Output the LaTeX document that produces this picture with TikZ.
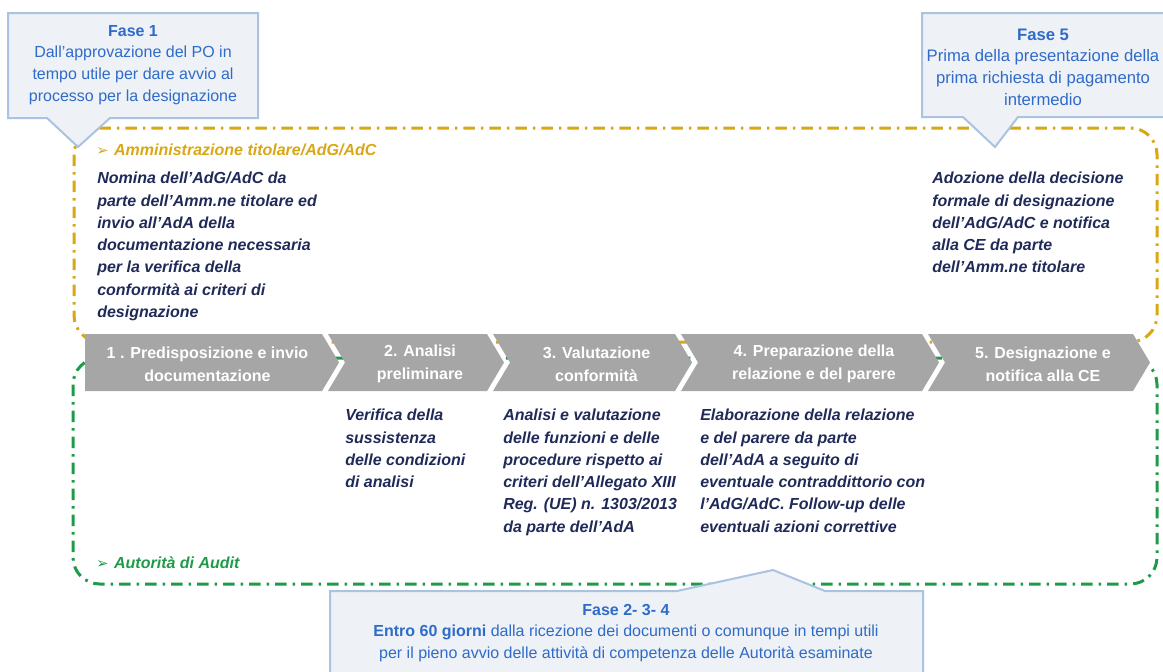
\documentclass[tikz,border=0pt]{standalone}
\usepackage{fontspec}
\setmainfont{Liberation Sans}
\newfontfamily\dingfont{DejaVu Sans}
\usetikzlibrary{positioning}
\definecolor{amm}{HTML}{D9A614}
\definecolor{audit}{HTML}{1E9B48}
\definecolor{navy}{HTML}{1F2A58}
\definecolor{faseblue}{HTML}{2F6BC9}
\definecolor{calloutfill}{HTML}{EEF1F5}
\definecolor{calloutline}{HTML}{A9C3E0}
\definecolor{stepgray}{HTML}{A6A6A6}
\tikzset{
  lanebox/.style={line width=2.25pt, rounded corners=20pt,
    dash pattern=on 8.5pt off 4.5pt on 2pt off 4.5pt},
  callout/.style={fill=calloutfill, draw=calloutline, line width=1.5pt},
  callout text/.style={text=faseblue, font=\fontsize{12}{16.3}\selectfont,
    align=center, inner sep=0pt},
  chevron/.style={fill=stepgray},
  chevron text/.style={text=white, font=\fontsize{12}{17.2}\selectfont\bfseries,
    align=center, inner sep=0pt},
  body text/.style={text=navy, font=\fontsize{12}{16.7}\selectfont\bfseries\itshape,
    align=left, inner sep=0pt, anchor=north west},
  lane label/.style={font=\fontsize{12}{16}\selectfont\bfseries\itshape,
    anchor=west, inner sep=0pt}
}
\newcommand{\lanebullet}{{\dingfont\fontsize{11}{11}\selectfont ➢}\hspace{0.35em}}
\begin{document}
\begin{tikzpicture}[x=0.75pt,y=-0.75pt]
  \useasboundingbox (0,0) rectangle (1163,671);
  % lanes
  \draw[lanebox, amm] (74,128) rectangle (1157,342);
  \draw[lanebox, audit] (73,358) rectangle (1157,584);
  \node[lane label, text=amm] (ammlabel) at (96,150)
    {\lanebullet Amministrazione titolare/AdG/AdC};
  \node[lane label, text=audit] (auditlabel) at (96,563)
    {\lanebullet Autorità di Audit};
  % process steps
  \foreach \i/\xl/\xn/\xr/\txt in {
      1/85/85/322/{1 . Predisposizione e invio\\documentazione},
      2/328/345/487/{2. Analisi\\preliminare},
      3/493/510/675/{3. Valutazione\\conformità},
      4/681/698/922/{4. Preparazione della\\relazione e del parere},
      5/928/945/1133/{5. Designazione e\\notifica alla CE}} {
    \fill[chevron] (\xl,334) -- (\xr,334) -- (\xr+17,362.5) -- (\xr,391)
      -- (\xl,391) -- (\xn,362.5) -- cycle;
    \node[chevron text] (step\i) at ({(\xn+\xr)/2+4},364) {\txt};
  }
  % activities
  \node[body text] (nomina) at (97,172) {Nomina dell’AdG/AdC da\\parte dell’Amm.ne titolare ed\\invio all’AdA della\\documentazione necessaria\\per la verifica della\\conformità ai criteri di\\designazione};
  \node[body text] (adozione) at (932,172) {Adozione della decisione\\formale di designazione\\dell’AdG/AdC e notifica\\alla CE da parte\\dell’Amm.ne titolare};
  \node[body text] (verifica) at (345,409) {Verifica della\\sussistenza\\delle condizioni\\di analisi};
  \node[body text] (analisi) at (503,409) {Analisi e valutazione\\delle funzioni e delle\\procedure rispetto ai\\criteri dell’Allegato XIII\\Reg. (UE) n. 1303/2013\\da parte dell’AdA};
  \node[body text] (elaborazione) at (700,409) {Elaborazione della relazione\\e del parere da parte\\dell’AdA a seguito di\\eventuale contraddittorio con\\l’AdG/AdC. Follow-up delle\\eventuali azioni correttive};
  % phase callouts
  \filldraw[callout] (8,13) -- (258,13) -- (258,118) -- (110,118) -- (78,147)
    -- (47,118) -- (8,118) -- cycle;
  \node[callout text] (fase1) at (133,65) {\textbf{Fase 1}\\Dall’approvazione del PO in\\tempo utile per dare avvio al\\processo per la designazione};
  \filldraw[callout] (922,13) -- (1166,13) -- (1166,117) -- (1018,117) -- (995,147)
    -- (963,117) -- (922,117) -- cycle;
  \node[callout text, font=\fontsize{12.5}{16.3}\selectfont] (fase5) at (1043,67) {\textbf{Fase 5}\\Prima della presentazione della\\prima richiesta di pagamento\\intermedio};
  \filldraw[callout] (330,591) -- (677,591) -- (773,570) -- (825,591) -- (923,591)
    -- (923,680) -- (330,680) -- cycle;
  \node[callout text] (fase234) at (626,633) {\textbf{Fase 2- 3- 4}\\\textbf{Entro 60 giorni} dalla ricezione dei documenti o comunque in tempi utili\\per il pieno avvio delle attività di competenza delle Autorità esaminate};
\end{tikzpicture}
\end{document}
